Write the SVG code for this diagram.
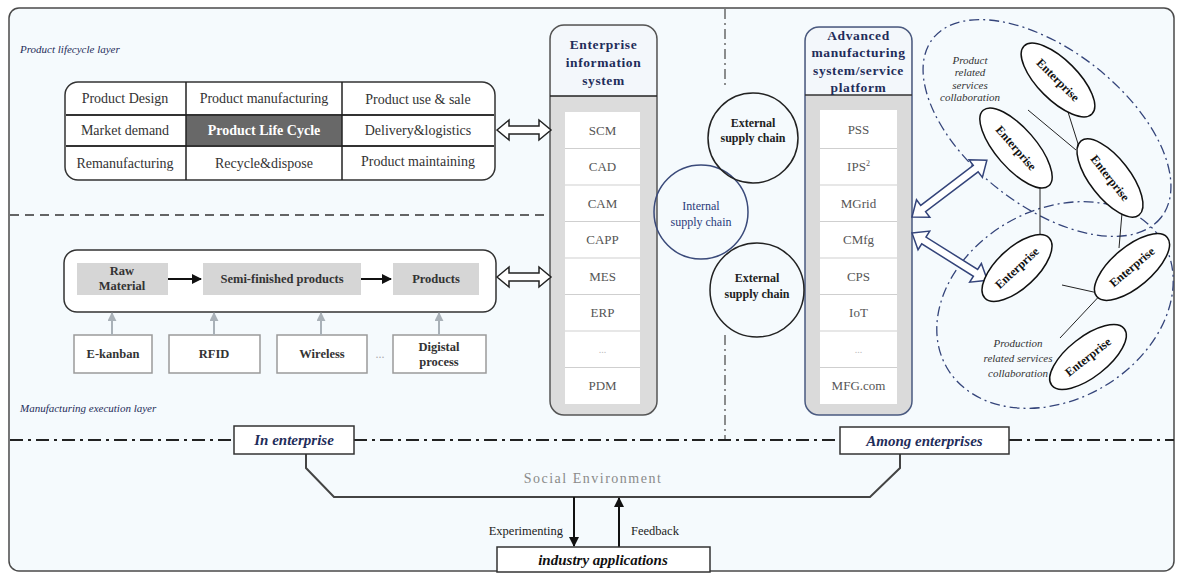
<svg xmlns="http://www.w3.org/2000/svg" width="1179" height="574" viewBox="0 0 1179 574">
<style>
.serif{font-family:"Liberation Serif","Times New Roman",serif}
.cell{font-family:"Liberation Serif",serif;font-size:14px;fill:#333;text-anchor:middle}
.list{font-family:"Liberation Serif",serif;font-size:13px;fill:#555;text-anchor:middle}
.hdr{font-family:"Liberation Serif",serif;font-size:13.5px;font-weight:bold;fill:#1f2d5a;text-anchor:middle;letter-spacing:0.6px}
.layer{font-family:"Liberation Serif",serif;font-size:11px;font-style:italic;fill:#1f2d5a}
.bx{font-family:"Liberation Serif",serif;font-size:12.5px;font-weight:bold;fill:#333;text-anchor:middle}
.ent{font-family:"Liberation Serif",serif;font-size:12px;font-weight:bold;fill:#111;text-anchor:middle}
.note{font-family:"Liberation Serif",serif;font-size:11px;font-style:italic;fill:#333;text-anchor:middle}
.tag{font-family:"Liberation Serif",serif;font-size:15px;font-weight:bold;font-style:italic;fill:#1f2d5a;text-anchor:middle}
.lbl{font-family:"Liberation Serif",serif;font-size:12.5px;fill:#222}
.sep{stroke:#cfcfcf;stroke-width:1.2}
.dbl{fill:#fff;stroke:#222;stroke-width:1.5;stroke-linejoin:miter}
.dblb{fill:#fff;stroke:#34447a;stroke-width:1.5}
.ell{fill:#fff;stroke:#111;stroke-width:1.5}
.link{stroke:#222;stroke-width:1;fill:none}
.gbox{fill:#d6d6d6}
.wbox{fill:#fff;stroke:#9a9a9a;stroke-width:1.5}
</style>
<defs>
<marker id="ah" viewBox="0 0 10 10" refX="9" refY="5" markerUnits="userSpaceOnUse" markerWidth="11" markerHeight="10" orient="auto"><path d="M0,0 L10,5 L0,10 z" fill="#111"/></marker>
<marker id="ahg" viewBox="0 0 10 10" refX="9" refY="5" markerUnits="userSpaceOnUse" markerWidth="9" markerHeight="9" orient="auto"><path d="M0,0 L10,5 L0,10 z" fill="#a9b1b8"/></marker>
</defs>

<rect x="9" y="8" width="1165" height="563" rx="10" fill="#f5fafd" stroke="#4a4a4a" stroke-width="1.5"/>

<g id="separators" fill="none">
<line x1="10" y1="215" x2="550" y2="215" stroke="#333" stroke-width="1.5" stroke-dasharray="9 6"/>
<line x1="725" y1="9" x2="725" y2="88" stroke="#444" stroke-width="1.2" stroke-dasharray="10 4 2 4"/>
<line x1="725" y1="335" x2="725" y2="440" stroke="#444" stroke-width="1.2" stroke-dasharray="10 4 2 4"/>
<path d="M10,440 H234 M354,440 H840 M1009,440 H1174" stroke="#222" stroke-width="2" stroke-dasharray="13 5 3 5"/>
</g>

<text class="layer" x="20" y="53">Product lifecycle layer</text>
<text class="layer" x="20" y="412">Manufacturing execution layer</text>

<g id="lifecycle">
<rect x="65" y="82" width="430" height="98" rx="13" fill="#fff" stroke="#333" stroke-width="1.5"/>
<rect x="186" y="115" width="156" height="31" fill="#686868"/>
<line x1="66" y1="115" x2="494" y2="115" stroke="#333" stroke-width="2"/>
<line x1="66" y1="146" x2="494" y2="146" stroke="#333" stroke-width="2"/>
<line x1="186" y1="82" x2="186" y2="180" stroke="#222" stroke-width="1.5"/>
<line x1="342" y1="82" x2="342" y2="180" stroke="#222" stroke-width="1.5"/>
<text class="cell" x="125" y="103">Product Design</text>
<text class="cell" x="264" y="103">Product manufacturing</text>
<text class="cell" x="418" y="104">Product use &amp; sale</text>
<text class="cell" x="125" y="135">Market demand</text>
<text class="cell" x="264" y="135" style="fill:#fff;font-weight:bold">Product  Life Cycle</text>
<text class="cell" x="418" y="135">Delivery&amp;logistics</text>
<text class="cell" x="125" y="168">Remanufacturing</text>
<text class="cell" x="264" y="168">Recycle&amp;dispose</text>
<text class="cell" x="418" y="166">Product maintaining</text>
</g>

<g id="process">
<rect x="64" y="250" width="432" height="62" rx="13" fill="#fff" stroke="#333" stroke-width="1.5"/>
<rect class="gbox" x="77" y="263" width="91" height="32"/>
<rect class="gbox" x="203" y="263" width="158" height="32"/>
<rect class="gbox" x="393" y="263" width="86" height="32"/>
<text class="bx" x="122" y="275">Raw</text>
<text class="bx" x="122" y="290">Material</text>
<text class="bx" x="282" y="283">Semi-finished products</text>
<text class="bx" x="436" y="283">Products</text>
</g>
<g id="ekanban"><rect class="wbox" x="74" y="335" width="78" height="38"/><text class="bx" x="113" y="358">E-kanban</text></g>
<g id="rfid"><rect class="wbox" x="169" y="335" width="91" height="38"/><text class="bx" x="214" y="358">RFID</text></g>
<g id="wireless"><rect class="wbox" x="277" y="335" width="90" height="38"/><text class="bx" x="322" y="358">Wireless</text></g>
<g id="digital"><rect class="wbox" x="393" y="335" width="93" height="38"/><text class="bx" x="439" y="351">Digistal</text><text class="bx" x="439" y="366">process</text></g>
<text x="380" y="358" font-family="Liberation Serif" font-size="12" fill="#aaa" text-anchor="middle">...</text>

<g id="eis">
<rect x="550" y="25" width="107" height="390" rx="14" fill="#dcdcdc" stroke="#555" stroke-width="1.5"/>
<path d="M551,96 V39 A13,13 0 0 1 564,26 H643 A13,13 0 0 1 656,39 V96 Z" fill="#f3f7fb"/>
<line x1="550" y1="96" x2="657" y2="96" stroke="#222" stroke-width="1.5"/>
<rect x="565" y="112" width="75" height="292" fill="#fff"/>
<path class="sep" d="M565,148.5H640M565,185H640M565,221.5H640M565,258H640M565,294.5H640M565,331H640M565,367.5H640"/>
<text class="hdr" x="603.5" y="49">Enterprise</text>
<text class="hdr" x="603.5" y="67">information</text>
<text class="hdr" x="603.5" y="85">system</text>
<text class="list" x="602.5" y="135">SCM</text>
<text class="list" x="602.5" y="171">CAD</text>
<text class="list" x="602.5" y="208">CAM</text>
<text class="list" x="602.5" y="244">CAPP</text>
<text class="list" x="602.5" y="281">MES</text>
<text class="list" x="602.5" y="317">ERP</text>
<text class="list" x="602.5" y="353" style="fill:#bbb;font-size:10px">...</text>
<text class="list" x="602.5" y="390">PDM</text>
</g>

<g id="ams">
<rect x="805" y="27" width="107" height="388" rx="14" fill="#dadada" stroke="#4a5a80" stroke-width="1.5"/>
<path d="M806,95 V41 A13,13 0 0 1 819,28 H898 A13,13 0 0 1 911,41 V95 Z" fill="#f3f7fb"/>
<line x1="805" y1="95" x2="912" y2="95" stroke="#333" stroke-width="1.5"/>
<rect x="820" y="110" width="77" height="294" fill="#fff"/>
<path class="sep" d="M820,148.5H897M820,185H897M820,221.5H897M820,258H897M820,294.5H897M820,331H897M820,367.5H897"/>
<text class="hdr" x="858.5" y="40">Advanced</text>
<text class="hdr" x="858.5" y="57">manufacturing</text>
<text class="hdr" x="858.5" y="75">system/service</text>
<text class="hdr" x="858.5" y="92">platform</text>
<text class="list" x="858.5" y="134">PSS</text>
<text class="list" x="858.5" y="171">IPS<tspan dy="-5" font-size="8">2</tspan></text>
<text class="list" x="858.5" y="208">MGrid</text>
<text class="list" x="858.5" y="244">CMfg</text>
<text class="list" x="858.5" y="281">CPS</text>
<text class="list" x="858.5" y="317">IoT</text>
<text class="list" x="858.5" y="353" style="fill:#bbb;font-size:10px">...</text>
<text class="list" x="858.5" y="390">MFG.com</text>
</g>

<g id="internal-supply">
<circle cx="701" cy="212" r="47" fill="none" stroke="#3a4a7a" stroke-width="1.5"/>
<text x="701" y="210" font-family="Liberation Serif" font-size="12" fill="#2a3a7a" text-anchor="middle">Internal</text>
<text x="701" y="226" font-family="Liberation Serif" font-size="12" fill="#2a3a7a" text-anchor="middle">supply chain</text>
</g>
<g id="external-supply-1">
<circle cx="753" cy="138" r="45" fill="none" stroke="#222" stroke-width="1.5"/>
<text x="753" y="127" font-family="Liberation Serif" font-size="12" font-weight="bold" fill="#222" text-anchor="middle">External</text>
<text x="753" y="142" font-family="Liberation Serif" font-size="12" font-weight="bold" fill="#222" text-anchor="middle">supply chain</text>
</g>
<g id="external-supply-2">
<circle cx="757" cy="290" r="47" fill="none" stroke="#222" stroke-width="1.5"/>
<text x="757" y="282" font-family="Liberation Serif" font-size="12" font-weight="bold" fill="#222" text-anchor="middle">External</text>
<text x="757" y="298" font-family="Liberation Serif" font-size="12" font-weight="bold" fill="#222" text-anchor="middle">supply chain</text>
</g>

<g id="product-collab">
<ellipse cx="1047" cy="128" rx="145" ry="78" transform="rotate(38 1047 128)" fill="none" stroke="#34447a" stroke-width="1.3" stroke-dasharray="10 4 2 4"/>
<text class="note" x="970" y="64">Product</text>
<text class="note" x="970" y="76">related</text>
<text class="note" x="970" y="89">services</text>
<text class="note" x="970" y="101">collaboration</text>
</g>
<g id="production-collab">
<ellipse cx="1055" cy="305" rx="125" ry="95" transform="rotate(-30 1055 305)" fill="none" stroke="#34447a" stroke-width="1.3" stroke-dasharray="10 4 2 4"/>
<text class="note" x="1018" y="347">Production</text>
<text class="note" x="1018" y="362">related services</text>
<text class="note" x="1018" y="377">collaboration</text>
</g>

<g id="connectors">
<path class="link" d="M1068,112 L1080,150 M1028,110 L1076,150 M1040,183 V262 M1122,213 L1119,248 M1062,285 L1098,293 M1105,290 L1060,338"/>
<line x1="168" y1="279" x2="201" y2="279" stroke="#111" stroke-width="2" marker-end="url(#ah)"/>
<line x1="361" y1="279" x2="391" y2="279" stroke="#111" stroke-width="2" marker-end="url(#ah)"/>
<line x1="112" y1="335" x2="112" y2="313" stroke="#a9b1b8" stroke-width="2" marker-end="url(#ahg)"/>
<line x1="214" y1="335" x2="214" y2="313" stroke="#a9b1b8" stroke-width="2" marker-end="url(#ahg)"/>
<line x1="321" y1="335" x2="321" y2="313" stroke="#a9b1b8" stroke-width="2" marker-end="url(#ahg)"/>
<line x1="439" y1="335" x2="439" y2="313" stroke="#a9b1b8" stroke-width="2" marker-end="url(#ahg)"/>
<path class="dbl" d="M497,130 L509,120 L509,126 L539,126 L539,120 L551,130 L539,140 L539,134 L509,134 L509,140 Z"/>
<path class="dbl" d="M497,277 L509,267 L509,273 L539,273 L539,267 L551,277 L539,287 L539,281 L509,281 L509,287 Z"/>
<path class="dblb" transform="translate(912 217) rotate(-37.2)" d="M0,0 L14,-11 L14,-4 L80,-4 L80,-11 L94,0 L80,11 L80,4 L14,4 L14,11 Z"/>
<path class="dblb" transform="translate(912 233) rotate(32.1)" d="M0,0 L14,-11 L14,-4 L75,-4 L75,-11 L89,0 L75,11 L75,4 L14,4 L14,11 Z"/>
<path d="M306,454 V468 L334,497 H870 L900,468 V454" fill="none" stroke="#444" stroke-width="2"/>
<line x1="574" y1="497" x2="574" y2="546" stroke="#111" stroke-width="2" marker-end="url(#ah)"/>
<line x1="619" y1="547" x2="619" y2="498" stroke="#111" stroke-width="2" marker-end="url(#ah)"/>
</g>

<g id="enterprise-1" transform="translate(1058 80) rotate(45)"><ellipse class="ell" rx="48" ry="20"/><text class="ent" y="4">Enterprise</text></g>
<g id="enterprise-2" transform="translate(1016 148) rotate(49)"><ellipse class="ell" rx="50" ry="20"/><text class="ent" y="4">Enterprise</text></g>
<g id="enterprise-3" transform="translate(1110 178) rotate(52)"><ellipse class="ell" rx="47" ry="20"/><text class="ent" y="4">Enterprise</text></g>
<g id="enterprise-4" transform="translate(1017 268) rotate(-43)"><ellipse class="ell" rx="44" ry="20"/><text class="ent" y="4">Enterprise</text></g>
<g id="enterprise-5" transform="translate(1132 267) rotate(-40)"><ellipse class="ell" rx="46" ry="20"/><text class="ent" y="4">Enterprise</text></g>
<g id="enterprise-6" transform="translate(1088 357) rotate(-38)"><ellipse class="ell" rx="46" ry="20"/><text class="ent" y="4">Enterprise</text></g>

<g id="in-enterprise"><rect x="234" y="426" width="120" height="28" fill="#fff" stroke="#333" stroke-width="1.5"/><text class="tag" x="294" y="445">In enterprise</text></g>
<g id="among-enterprises"><rect x="840" y="427" width="169" height="27" fill="#fff" stroke="#333" stroke-width="1.5"/><text class="tag" x="924.5" y="446">Among enterprises</text></g>
<text id="social" x="593" y="483" font-family="Liberation Serif" font-size="14" fill="#8a8a8a" text-anchor="middle" letter-spacing="1.5">Social Environment</text>
<text class="lbl" x="563" y="535" text-anchor="end">Experimenting</text>
<text class="lbl" x="631" y="535">Feedback</text>
<g id="industry"><rect x="497" y="547" width="213" height="25" fill="#fff" stroke="#333" stroke-width="1.5"/><text x="603" y="565" font-family="Liberation Serif" font-size="15" font-weight="bold" font-style="italic" fill="#111" text-anchor="middle">industry applications</text></g>
</svg>
